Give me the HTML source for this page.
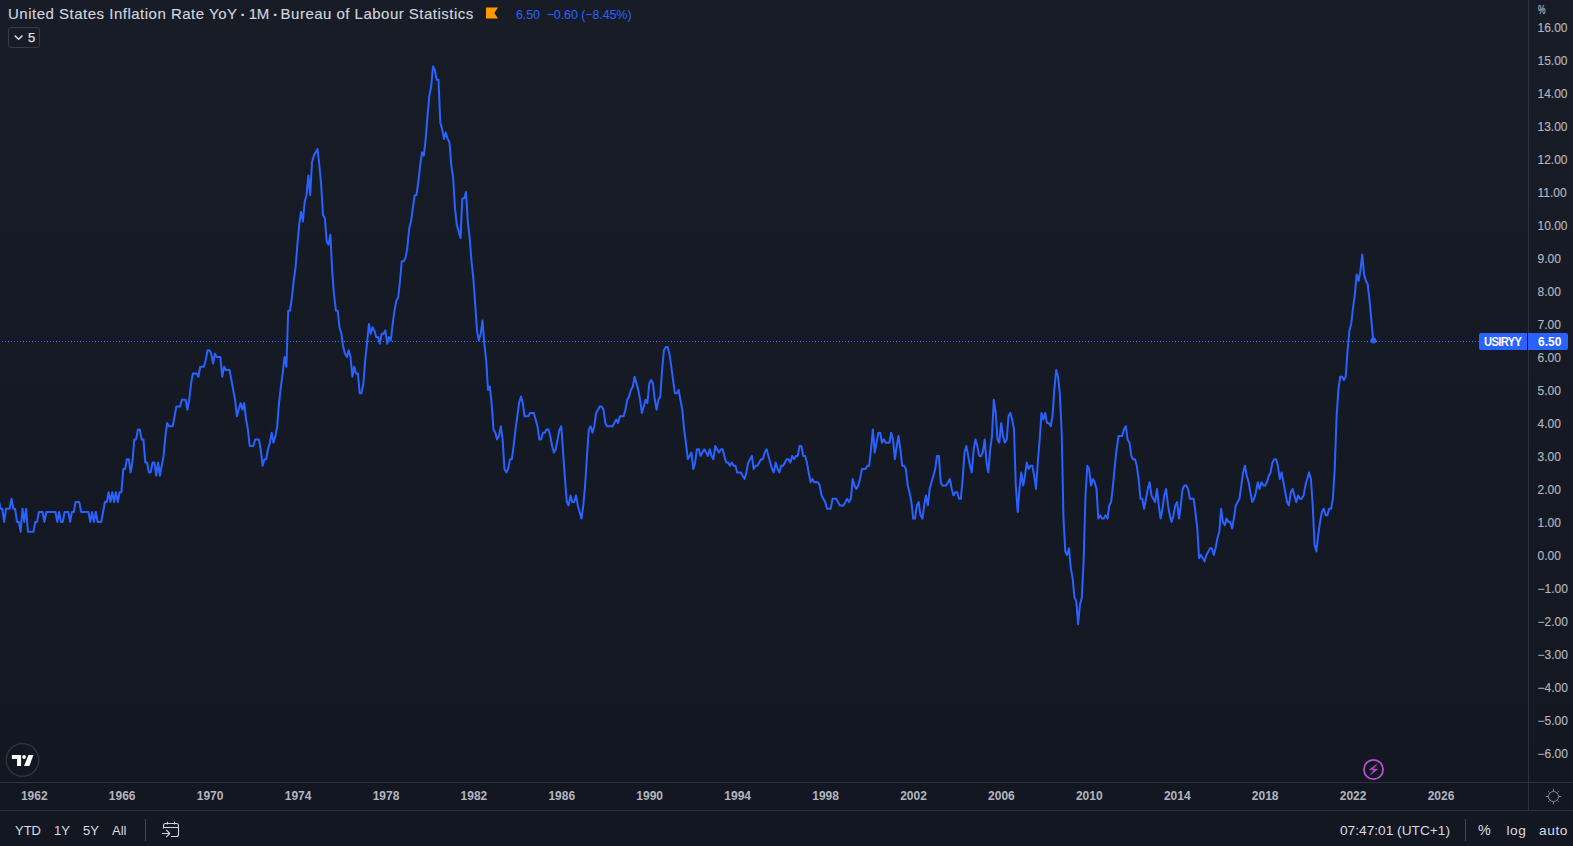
<!DOCTYPE html>
<html><head><meta charset="utf-8"><style>
*{margin:0;padding:0;box-sizing:border-box}
html,body{width:1573px;height:846px;overflow:hidden}
body{background:#131722;font-family:"Liberation Sans",sans-serif;position:relative;color:#d1d4dc}
#pane{position:absolute;left:0;top:0;width:1528px;height:782px;background:linear-gradient(#181c27,#131722)}
#paxis{position:absolute;left:1529px;top:0;width:44px;height:782px;background:linear-gradient(#181c27,#131722)}
#vsep{position:absolute;left:1528px;top:0;width:1px;height:810px;background:#2e313c}
#hsep1{position:absolute;left:0;top:782px;width:1573px;height:1px;background:#2e313c}
#hsep2{position:absolute;left:0;top:810px;width:1573px;height:1px;background:#2e313c}
#taxis{position:absolute;left:0;top:783px;width:1573px;height:27px;background:#131722}
#bar{position:absolute;left:0;top:811px;width:1573px;height:35px;background:#131722}
.pl{position:absolute;left:1537.5px;font-size:12px;color:#b2b5be;line-height:14px;-webkit-text-stroke:0.15px #b2b5be}
.tl{position:absolute;top:789px;width:40px;text-align:center;font-size:12px;color:#b2b5be;line-height:14px;font-weight:bold}
svg{position:absolute;left:0;top:0}
.title span{position:absolute;top:0}
.title{position:absolute;left:8px;top:5px;font-size:15px;letter-spacing:0.37px;-webkit-text-stroke:0.15px #d1d4dc;color:#d1d4dc;white-space:nowrap;line-height:18px}
.vals{position:absolute;left:516px;top:7px;font-size:12.5px;letter-spacing:-0.1px;color:#2962ff;white-space:nowrap;line-height:16px}
.flag{position:absolute;left:486px;top:7px;width:12px;height:12px}
.cnt{position:absolute;left:8px;top:27px;width:32px;height:21px;border:1px solid #363a45;border-radius:3px;font-size:13px}
.lbl{position:absolute;top:333px;height:17px;background:#2962ff;color:#fff;font-size:12px;line-height:18px;font-weight:bold}
.bt{position:absolute;top:822.6px;font-size:13.7px;color:#d8dbe2;line-height:16px;white-space:nowrap}
</style></head><body>
<div id="pane"></div><div id="paxis"></div>
<div id="taxis"></div><div id="bar"></div>
<div id="vsep"></div><div id="hsep1"></div><div id="hsep2"></div>
<svg width="1528" height="782" viewBox="0 0 1528 782">
<line x1="2" y1="341.5" x2="1479" y2="341.5" stroke="#2962ff" stroke-width="1" stroke-dasharray="1 2"/>
<polyline points="-8.7,498.8 -6.9,498.8 -5.0,498.8 -3.2,498.8 -1.4,498.8 0.5,508.7 2.3,508.7 4.1,521.9 6.0,508.7 7.8,508.7 9.6,508.7 11.5,498.8 13.3,508.7 15.1,508.7 17.0,521.9 18.8,521.9 20.6,531.8 22.5,508.7 24.3,521.9 26.1,508.7 28.0,531.8 29.8,531.8 31.6,531.8 33.5,531.8 35.3,521.9 37.1,521.9 38.9,512.0 40.8,512.0 42.6,512.0 44.4,521.9 46.3,512.0 48.1,512.0 49.9,512.0 51.8,512.0 53.6,512.0 55.4,512.0 57.3,521.9 59.1,512.0 60.9,521.9 62.8,521.9 64.6,512.0 66.4,512.0 68.3,512.0 70.1,521.9 71.9,512.0 73.8,512.0 75.6,502.1 77.4,502.1 79.3,502.1 81.1,512.0 82.9,512.0 84.8,512.0 86.6,512.0 88.4,512.0 90.3,521.9 92.1,512.0 93.9,521.9 95.8,512.0 97.6,521.9 99.4,521.9 101.3,521.9 103.1,512.0 104.9,502.1 106.8,502.1 108.6,492.2 110.4,502.1 112.3,492.2 114.1,502.1 115.9,492.2 117.8,502.1 119.6,492.2 121.4,492.2 123.3,469.1 125.1,469.1 126.9,459.2 128.8,459.2 130.6,472.4 132.4,462.5 134.3,439.4 136.1,439.4 137.9,429.5 139.8,429.5 141.6,439.4 143.4,439.4 145.3,462.5 147.1,462.5 148.9,472.4 150.7,472.4 152.6,462.5 154.4,462.5 156.2,475.7 158.1,462.5 159.9,475.7 161.7,465.8 163.6,455.9 165.4,436.1 167.2,422.9 169.1,426.2 170.9,426.2 172.7,426.2 174.6,416.3 176.4,406.4 178.2,406.4 180.1,406.4 181.9,399.8 183.7,399.8 185.6,399.8 187.4,409.7 189.2,399.8 191.1,383.3 192.9,373.4 194.7,373.4 196.6,373.4 198.4,376.7 200.2,366.8 202.1,366.8 203.9,366.8 205.7,360.2 207.6,350.3 209.4,350.3 211.2,353.6 213.1,363.5 214.9,353.6 216.7,356.9 218.6,356.9 220.4,356.9 222.2,376.7 224.1,366.8 225.9,370.1 227.7,370.1 229.6,370.1 231.4,380.0 233.2,389.9 235.1,399.8 236.9,416.3 238.7,409.7 240.6,403.1 242.4,409.7 244.2,403.1 246.1,419.6 247.9,429.5 249.7,446.0 251.6,446.0 253.4,446.0 255.2,439.4 257.1,439.4 258.9,439.4 260.7,449.3 262.6,465.8 264.4,459.2 266.2,459.2 268.0,449.3 269.9,442.7 271.7,432.8 273.5,442.7 275.4,436.1 277.2,426.2 279.0,403.1 280.9,386.6 282.7,373.4 284.5,356.9 286.4,366.8 288.2,310.7 290.0,310.7 291.9,297.5 293.7,281.0 295.5,267.8 297.4,244.7 299.2,224.9 301.0,211.7 302.9,221.6 304.7,201.8 306.5,195.2 308.4,175.4 310.2,195.2 312.0,162.2 313.9,155.6 315.7,152.3 317.5,149.0 319.4,165.5 321.2,185.3 323.0,215.0 324.9,218.3 326.7,241.4 328.5,244.7 330.4,234.8 332.2,271.1 334.0,294.2 335.9,310.7 337.7,310.7 339.5,327.2 341.4,333.8 343.2,347.0 345.0,353.6 346.9,356.9 348.7,350.3 350.5,356.9 352.4,376.7 354.2,366.8 356.0,373.4 357.9,373.4 359.7,393.2 361.5,393.2 363.4,383.3 365.2,360.2 367.0,343.7 368.9,323.9 370.7,333.8 372.5,327.2 374.4,330.5 376.2,337.1 378.0,337.1 379.8,343.7 381.7,333.8 383.5,333.8 385.3,330.5 387.2,343.7 389.0,337.1 390.8,340.4 392.7,323.9 394.5,310.7 396.3,300.8 398.2,297.5 400.0,281.0 401.8,261.2 403.7,261.2 405.5,257.9 407.3,248.0 409.2,228.2 411.0,221.6 412.8,208.4 414.7,195.2 416.5,195.2 418.3,182.0 420.2,165.5 422.0,152.3 423.8,155.6 425.7,139.1 427.5,116.0 429.3,96.2 431.2,86.3 433.0,66.5 434.8,69.8 436.7,79.7 438.5,79.7 440.3,122.6 442.2,129.2 444.0,139.1 445.8,132.5 447.7,139.1 449.5,142.4 451.3,165.5 453.2,178.7 455.0,208.4 456.8,224.9 458.7,231.5 460.5,238.1 462.3,198.5 464.2,198.5 466.0,191.9 467.8,221.6 469.7,238.1 471.5,261.2 473.3,277.7 475.2,304.1 477.0,330.5 478.8,340.4 480.7,333.8 482.5,320.6 484.3,343.7 486.2,360.2 488.0,389.9 489.8,386.6 491.6,403.1 493.5,429.5 495.3,432.8 497.1,439.4 499.0,436.1 500.8,426.2 502.6,439.4 504.5,469.1 506.3,472.4 508.1,469.1 510.0,459.2 511.8,459.2 513.6,446.0 515.5,429.5 517.3,416.3 519.1,403.1 521.0,396.5 522.8,403.1 524.6,416.3 526.5,416.3 528.3,416.3 530.1,413.0 532.0,413.0 533.8,413.0 535.6,419.6 537.5,426.2 539.3,439.4 541.1,439.4 543.0,432.8 544.8,432.8 546.6,429.5 548.5,429.5 550.3,436.1 552.1,446.0 554.0,452.6 555.8,449.3 557.6,439.4 559.5,429.5 561.3,426.2 563.1,452.6 565.0,479.0 566.8,502.1 568.6,505.4 570.5,495.5 572.3,502.1 574.1,502.1 576.0,495.5 577.8,505.4 579.6,512.0 581.5,518.6 583.3,505.4 585.1,485.6 587.0,455.9 588.8,429.5 590.6,426.2 592.5,432.8 594.3,426.2 596.1,413.0 598.0,409.7 599.8,406.4 601.6,406.4 603.5,409.7 605.3,422.9 607.1,426.2 608.9,426.2 610.8,426.2 612.6,426.2 614.4,422.9 616.3,419.6 618.1,422.9 619.9,416.3 621.8,416.3 623.6,416.3 625.4,409.7 627.3,399.8 629.1,396.5 630.9,389.9 632.8,386.6 634.6,376.7 636.4,383.3 638.3,389.9 640.1,399.8 641.9,413.0 643.8,406.4 645.6,399.8 647.4,403.1 649.3,383.3 651.1,380.0 652.9,383.3 654.8,399.8 656.6,409.7 658.4,399.8 660.3,396.5 662.1,370.1 663.9,350.3 665.8,347.0 667.6,347.0 669.4,353.6 671.3,366.8 673.1,380.0 674.9,393.2 676.8,393.2 678.6,389.9 680.4,399.8 682.3,409.7 684.1,429.5 685.9,442.7 687.8,459.2 689.6,455.9 691.4,452.6 693.3,469.1 695.1,462.5 696.9,449.3 698.8,449.3 700.6,455.9 702.4,452.6 704.3,449.3 706.1,452.6 707.9,455.9 709.8,449.3 711.6,455.9 713.4,459.2 715.3,446.0 717.1,449.3 718.9,452.6 720.8,449.3 722.6,449.3 724.4,455.9 726.2,462.5 728.1,462.5 729.9,465.8 731.7,462.5 733.6,465.8 735.4,465.8 737.2,472.4 739.1,472.4 740.9,472.4 742.7,475.7 744.6,479.0 746.4,472.4 748.2,462.5 750.1,459.2 751.9,455.9 753.7,469.1 755.6,465.8 757.4,465.8 759.2,462.5 761.1,459.2 762.9,459.2 764.7,452.6 766.6,449.3 768.4,455.9 770.2,462.5 772.1,469.1 773.9,472.4 775.7,462.5 777.6,469.1 779.4,472.4 781.2,465.8 783.1,465.8 784.9,462.5 786.7,459.2 788.6,459.2 790.4,462.5 792.2,455.9 794.1,459.2 795.9,455.9 797.7,455.9 799.6,446.0 801.4,446.0 803.2,455.9 805.1,455.9 806.9,462.5 808.7,472.4 810.6,482.3 812.4,479.0 814.2,482.3 816.1,482.3 817.9,482.3 819.7,485.6 821.6,495.5 823.4,498.8 825.2,502.1 827.1,508.7 828.9,508.7 830.7,508.7 832.6,498.8 834.4,498.8 836.2,498.8 838.0,502.1 839.9,505.4 841.7,505.4 843.5,505.4 845.4,502.1 847.2,498.8 849.0,502.1 850.9,498.8 852.7,479.0 854.5,485.6 856.4,488.9 858.2,485.6 860.0,479.0 861.9,469.1 863.7,469.1 865.5,469.1 867.4,465.8 869.2,465.8 871.0,449.3 872.9,429.5 874.7,452.6 876.5,442.7 878.4,432.8 880.2,432.8 882.0,442.7 883.9,439.4 885.7,442.7 887.5,442.7 889.4,442.7 891.2,432.8 893.0,439.4 894.9,459.2 896.7,446.0 898.5,436.1 900.4,449.3 902.2,465.8 904.0,465.8 905.9,469.1 907.7,485.6 909.5,492.2 911.4,502.1 913.2,518.6 915.0,518.6 916.9,505.4 918.7,502.1 920.5,515.3 922.4,518.6 924.2,505.4 926.0,495.5 927.9,505.4 929.7,488.9 931.5,482.3 933.4,475.7 935.2,469.1 937.0,455.9 938.9,455.9 940.7,482.3 942.5,485.6 944.4,485.6 946.2,485.6 948.0,482.3 949.9,479.0 951.7,488.9 953.5,495.5 955.3,492.2 957.2,492.2 959.0,498.8 960.8,498.8 962.7,479.0 964.5,452.6 966.3,446.0 968.2,455.9 970.0,465.8 971.8,472.4 973.7,449.3 975.5,439.4 977.3,446.0 979.2,455.9 981.0,455.9 982.8,452.6 984.7,439.4 986.5,462.5 988.3,472.4 990.2,449.3 992.0,436.1 993.8,399.8 995.7,413.0 997.5,439.4 999.3,442.7 1001.2,422.9 1003.0,436.1 1004.8,442.7 1006.7,439.4 1008.5,416.3 1010.3,413.0 1012.2,419.6 1014.0,429.5 1015.8,485.6 1017.7,512.0 1019.5,488.9 1021.3,472.4 1023.2,485.6 1025.0,475.7 1026.8,462.5 1028.7,469.1 1030.5,465.8 1032.3,465.8 1034.2,475.7 1036.0,488.9 1037.8,462.5 1039.7,439.4 1041.5,413.0 1043.3,419.6 1045.2,413.0 1047.0,422.9 1048.8,422.9 1050.7,426.2 1052.5,416.3 1054.3,389.9 1056.2,370.1 1058.0,376.7 1059.8,393.2 1061.7,432.8 1063.5,518.6 1065.3,551.6 1067.1,554.9 1069.0,548.3 1070.8,568.1 1072.6,578.0 1074.5,597.8 1076.3,601.1 1078.1,624.2 1080.0,604.4 1081.8,597.8 1083.6,561.5 1085.5,495.5 1087.3,465.8 1089.1,469.1 1091.0,485.6 1092.8,479.0 1094.6,482.3 1096.5,488.9 1098.3,518.6 1100.1,515.3 1102.0,518.6 1103.8,518.6 1105.6,515.3 1107.5,518.6 1109.3,505.4 1111.1,502.1 1113.0,485.6 1114.8,465.8 1116.6,449.3 1118.5,436.1 1120.3,436.1 1122.1,436.1 1124.0,429.5 1125.8,426.2 1127.6,439.4 1129.5,442.7 1131.3,455.9 1133.1,459.2 1135.0,459.2 1136.8,465.8 1138.6,479.0 1140.5,498.8 1142.3,498.8 1144.1,508.7 1146.0,498.8 1147.8,488.9 1149.6,482.3 1151.5,495.5 1153.3,498.8 1155.1,502.1 1157.0,488.9 1158.8,505.4 1160.6,518.6 1162.5,508.7 1164.3,495.5 1166.1,488.9 1168.0,505.4 1169.8,515.3 1171.6,521.9 1173.5,515.3 1175.3,505.4 1177.1,502.1 1179.0,518.6 1180.8,505.4 1182.6,488.9 1184.4,485.6 1186.3,485.6 1188.1,488.9 1189.9,498.8 1191.8,498.8 1193.6,498.8 1195.4,512.0 1197.3,528.5 1199.1,558.2 1200.9,554.9 1202.8,558.2 1204.6,561.5 1206.4,554.9 1208.3,551.6 1210.1,548.3 1211.9,548.3 1213.8,554.9 1215.6,548.3 1217.4,538.4 1219.3,531.8 1221.1,508.7 1222.9,521.9 1224.8,525.2 1226.6,518.6 1228.4,521.9 1230.3,521.9 1232.1,528.5 1233.9,518.6 1235.8,505.4 1237.6,502.1 1239.4,498.8 1241.3,485.6 1243.1,472.4 1244.9,465.8 1246.8,475.7 1248.6,482.3 1250.4,492.2 1252.3,502.1 1254.1,498.8 1255.9,492.2 1257.8,482.3 1259.6,488.9 1261.4,482.3 1263.3,485.6 1265.1,485.6 1266.9,482.3 1268.8,475.7 1270.6,472.4 1272.4,462.5 1274.3,459.2 1276.1,459.2 1277.9,465.8 1279.8,479.0 1281.6,472.4 1283.4,482.3 1285.3,492.2 1287.1,502.1 1288.9,505.4 1290.8,492.2 1292.6,488.9 1294.4,495.5 1296.2,502.1 1298.1,495.5 1299.9,498.8 1301.7,498.8 1303.6,495.5 1305.4,485.6 1307.2,479.0 1309.1,472.4 1310.9,479.0 1312.7,505.4 1314.6,545.0 1316.4,551.6 1318.2,535.1 1320.1,521.9 1321.9,512.0 1323.7,508.7 1325.6,515.3 1327.4,515.3 1329.2,508.7 1331.1,508.7 1332.9,498.8 1334.7,469.1 1336.6,416.3 1338.4,389.9 1340.2,376.7 1342.1,376.7 1343.9,380.0 1345.7,376.7 1347.6,350.3 1349.4,330.5 1351.2,323.9 1353.1,307.4 1354.9,294.2 1356.7,274.4 1358.6,281.0 1360.4,271.1 1362.2,254.6 1364.1,274.4 1365.9,281.0 1367.7,284.3 1369.6,300.8 1371.4,320.6 1373.2,340.4" fill="none" stroke="#2962ff" stroke-width="2" stroke-linejoin="round" stroke-linecap="round"/>
<circle cx="1373.4" cy="340.6" r="3" fill="#2962ff"/>
<circle cx="22.5" cy="760" r="16.3" fill="#131722" stroke="#32353f" stroke-width="1.3"/>
<path d="M11.9 755H21.1V766H17V759.1H11.9Z" fill="#fff"/>
<circle cx="24.1" cy="757" r="1.9" fill="#fff"/>
<path d="M28.5 755H33.4L29.4 766H24Z" fill="#fff"/>
<circle cx="1373.5" cy="769.5" r="9.6" fill="none" stroke="#b64fd0" stroke-width="1.8"/>
<path d="M1377 764.1L1369.2 769.8H1374L1370.2 775.1L1377.9 769.1H1373.1Z" fill="#b64fd0" stroke="#b64fd0" stroke-width="0.4" stroke-linejoin="round"/>
</svg>
<div class="title"><span style="left:0;letter-spacing:0.5px">United States Inflation Rate YoY</span> <span style="left:232.5px;top:0.6px;font-weight:bold">·</span> <span style="left:240.8px;letter-spacing:-0.5px">1M</span> <span style="left:264.9px;top:0.6px;font-weight:bold">·</span> <span style="left:272.6px;letter-spacing:0.48px">Bureau of Labour Statistics</span></div>
<svg class="flag" style="left:486px;top:7px" width="13" height="12" viewBox="0 0 13 12"><path d="M0 0H13L9 6L13 12H0Z" fill="#ff9800"/></svg>
<div class="vals">6.50&nbsp; −0.60 (−8.45%)</div>
<div class="cnt"><svg style="position:absolute;left:4.5px;top:6px" width="10" height="7" viewBox="0 0 10 7"><path d="M0.8 1.6L4.6 5.2L8.4 1.6" fill="none" stroke="#d1d4dc" stroke-width="1.5"/></svg><span style="position:absolute;left:18.9px;top:2px;font-size:13px;line-height:15px;color:#e0e2e7;-webkit-text-stroke:0.25px #e0e2e7">5</span></div>
<div class="pl" style="top:20.9px">16.00</div><div class="pl" style="top:53.9px">15.00</div><div class="pl" style="top:86.9px">14.00</div><div class="pl" style="top:119.9px">13.00</div><div class="pl" style="top:152.9px">12.00</div><div class="pl" style="top:185.9px">11.00</div><div class="pl" style="top:218.9px">10.00</div><div class="pl" style="top:251.9px">9.00</div><div class="pl" style="top:284.9px">8.00</div><div class="pl" style="top:317.9px">7.00</div><div class="pl" style="top:350.9px">6.00</div><div class="pl" style="top:383.9px">5.00</div><div class="pl" style="top:416.9px">4.00</div><div class="pl" style="top:449.9px">3.00</div><div class="pl" style="top:482.9px">2.00</div><div class="pl" style="top:515.9px">1.00</div><div class="pl" style="top:548.9px">0.00</div><div class="pl" style="top:581.9px">−1.00</div><div class="pl" style="top:614.9px">−2.00</div><div class="pl" style="top:647.9px">−3.00</div><div class="pl" style="top:680.9px">−4.00</div><div class="pl" style="top:713.9px">−5.00</div><div class="pl" style="top:746.9px">−6.00</div>
<div class="pl" style="top:2.6px;left:1537.8px;font-size:13.6px;line-height:14px;color:#c8cbd3;transform:scaleX(0.62);transform-origin:0 0">%</div>
<div class="tl" style="left:14.3px">1962</div><div class="tl" style="left:102.2px">1966</div><div class="tl" style="left:190.1px">1970</div><div class="tl" style="left:278.1px">1974</div><div class="tl" style="left:366.0px">1978</div><div class="tl" style="left:453.9px">1982</div><div class="tl" style="left:541.8px">1986</div><div class="tl" style="left:629.7px">1990</div><div class="tl" style="left:717.7px">1994</div><div class="tl" style="left:805.6px">1998</div><div class="tl" style="left:893.5px">2002</div><div class="tl" style="left:981.4px">2006</div><div class="tl" style="left:1069.3px">2010</div><div class="tl" style="left:1157.3px">2014</div><div class="tl" style="left:1245.2px">2018</div><div class="tl" style="left:1333.1px">2022</div><div class="tl" style="left:1421.0px">2026</div>
<div class="lbl" style="left:1479px;width:48px;border-radius:2px 0 0 2px"><span style="position:absolute;left:5.4px;top:0;letter-spacing:-0.7px;transform:scaleX(0.93);transform-origin:0 0;white-space:nowrap">USIRYY</span></div>
<div class="lbl" style="left:1527px;width:1px;background:#101218"></div>
<div class="lbl" style="left:1528px;width:40px;padding-left:10px;border-radius:0 2px 2px 0">6.50</div>
<div class="bt" style="left:15px;font-size:13px;top:822.5px">YTD</div>
<div class="bt" style="left:54px;font-size:13px;top:822.5px">1Y</div>
<div class="bt" style="left:83px;font-size:13px;top:822.5px">5Y</div>
<div class="bt" style="left:112px;font-size:13px;top:822.5px">All</div>
<div style="position:absolute;left:145px;top:819px;width:1px;height:22px;background:#434651"></div>
<div style="position:absolute;left:1465px;top:819px;width:1px;height:22px;background:#434651"></div>
<svg style="position:absolute;left:0;top:0" width="1573" height="846" viewBox="0 0 1573 846">
<g fill="none" stroke="#d1d4dc" stroke-width="1.1">
<path d="M163.5 828.5V825.5Q163.5 823.5 165.5 823.5H176.5Q178.5 823.5 178.5 825.5V834.5Q178.5 836.5 176.5 836.5H171"/>
<path d="M163.5 827.5H178.5"/>
<path d="M167.5 821.8V824.5M174.5 821.8V824.5"/>
<path d="M162 833.5H169.8M166.2 829.9L169.8 833.5L166.2 837.1"/>
</g>
<g fill="none" stroke="#868993" stroke-width="1">
<circle cx="1553.5" cy="796.5" r="5"/>
<path d="M1553.5 791.5V788.8M1553.5 801.5V804.2M1548.5 796.5H1545.8M1558.5 796.5H1561.2M1549.4 792.4L1548.2 791.2M1557.6 792.4L1558.8 791.2M1549.4 800.6L1548.2 801.8M1557.6 800.6L1558.8 801.8"/>
</g>
</svg>
<div class="bt" style="left:1340px">07:47:01 (UTC+1)</div>
<div class="bt" style="left:1478px;font-size:14.3px;top:822px">%</div>
<div class="bt" style="left:1506.5px;letter-spacing:0.5px">log</div>
<div class="bt" style="left:1539px;letter-spacing:0.6px">auto</div>
</body></html>
